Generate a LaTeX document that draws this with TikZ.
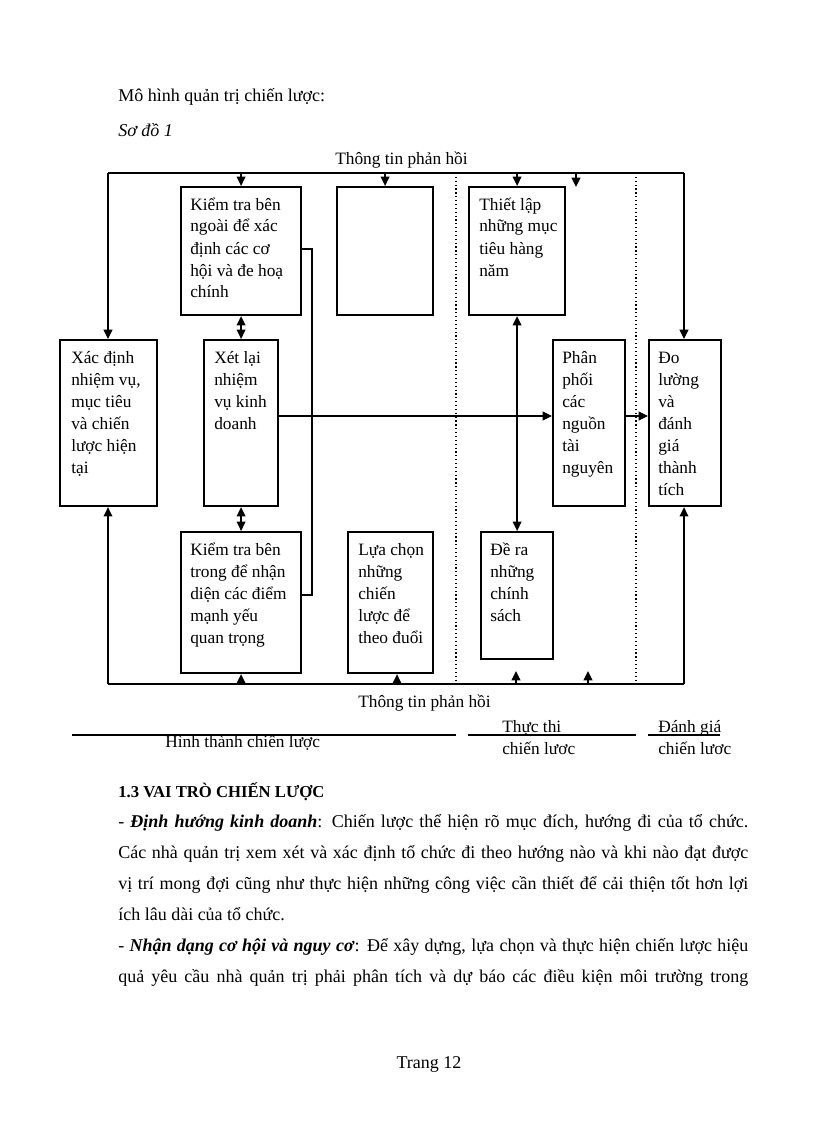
\documentclass[tikz,border=0pt]{standalone}
\usepackage{fontspec}
\setmainfont{Liberation Serif}
\usetikzlibrary{arrows.meta,calc}
\newcommand\bxt[1]{\parbox[t]{110pt}{\fontsize{13pt}{16.5pt}\selectfont #1}}
\newcommand\jline[1]{\makebox[472.5pt][s]{#1}}
\begin{document}
\begin{tikzpicture}[x=0.75pt,y=-0.75pt,
  box/.style={draw,line width=1.6pt,anchor=north west,inner sep=0pt},
  txt/.style={anchor=base west,inner sep=0pt},
  lbl/.style={anchor=base west,inner sep=0pt,font=\fontsize{13pt}{15pt}\selectfont},
  body/.style={anchor=base west,inner sep=0pt,font=\fontsize{13.5pt}{16pt}\selectfont},
  conn/.style={line width=1.2pt},
  arr/.style={conn,-{Triangle[length=7pt,width=6.5pt]}},
  darr/.style={conn,{Triangle[length=7pt,width=6.5pt]}-{Triangle[length=7pt,width=6.5pt]}},
  dots/.style={line width=0.9pt,dotted},
  uline/.style={line width=1pt}
]
\useasboundingbox[fill=white] (0,0) rectangle (816,1123);

% boxes
\node[box,minimum width=90pt,minimum height=96pt] (kn) at (180,186) {};
\node[box,minimum width=72pt,minimum height=96pt] (em) at (336,186) {};
\node[box,minimum width=72pt,minimum height=96pt] (tl) at (468,186) {};
\node[box,minimum width=72.75pt,minimum height=124.5pt] (xd) at (59,339) {};
\node[box,minimum width=55.5pt,minimum height=124.5pt] (xl) at (203,339) {};
\node[box,minimum width=54pt,minimum height=124.5pt] (pp) at (552,339) {};
\node[box,minimum width=54pt,minimum height=124.5pt] (dl) at (648,339) {};
\node[box,minimum width=90pt,minimum height=105.75pt] (kt) at (180,531) {};
\node[box,minimum width=63.75pt,minimum height=105.75pt] (lc) at (347,531) {};
\node[box,minimum width=54pt,minimum height=95.25pt] (dr) at (480,531) {};

% box texts
\node[txt] (kntx) at ($(kn.north west)+(10,24)$) {\bxt{Kiểm tra bên\\ngoài để xác\\định các cơ\\hội và đe hoạ\\chính}};
\node[txt] (tltx) at ($(tl.north west)+(11,24)$) {\bxt{Thiết lập\\những mục\\tiêu hàng\\năm}};
\node[txt] (xdtx) at ($(xd.north west)+(12,24)$) {\bxt{Xác định\\nhiệm vụ,\\mục tiêu\\và chiến\\lược hiện\\tại}};
\node[txt] (xltx) at ($(xl.north west)+(11,24)$) {\bxt{Xét lại\\nhiệm\\vụ kinh\\doanh}};
\node[txt] (pptx) at ($(pp.north west)+(10,24)$) {\bxt{Phân\\phối\\các\\nguồn\\tài\\nguyên}};
\node[txt] (dltx) at ($(dl.north west)+(10,24)$) {\bxt{Đo\\lường\\và\\đánh\\giá\\thành\\tích}};
\node[txt] (kttx) at ($(kt.north west)+(10,24)$) {\bxt{Kiểm tra bên\\trong để nhận\\diện các điểm\\mạnh yếu\\quan trọng}};
\node[txt] (lctx) at ($(lc.north west)+(11,24)$) {\bxt{Lựa chọn\\những\\chiến\\lược để\\theo đuổi}};
\node[txt] (drtx) at ($(dr.north west)+(10,24)$) {\bxt{Đề ra\\những\\chính\\sách}};

% frame coordinates
\coordinate (TL) at (108,173);
\coordinate (TR) at (684,173);
\coordinate (BL) at (108,684);
\coordinate (BR) at (684,684);
\coordinate (T576) at (576,173);
\coordinate (T576e) at (576,187);
\coordinate (B397) at (397,684);
\coordinate (B516) at (516,684);
\coordinate (B516e) at (516,671);
\coordinate (B588) at (588,684);
\coordinate (B588e) at (588,671);
\coordinate (D1t) at (456,173);
\coordinate (D1b) at (456,684);
\coordinate (D2t) at (636,173);
\coordinate (D2b) at (636,684);
\coordinate (hy) at (0,416);
\coordinate (br1) at (312,249);
\coordinate (br2) at (312,595);

% feedback lines
\draw[conn] (TL) -- (TR);
\draw[conn] (BL) -- (BR);
\draw[arr] (TL) -- (TL |- xd.north);
\draw[arr] (TR) -- (TR |- dl.north);
\draw[arr] (BL) -- (BL |- xd.south);
\draw[arr] (BR) -- (BR |- dl.south);
\draw[arr] (kn.north |- TL) -- (kn.north);
\draw[arr] (em.north |- TL) -- (em.north);
\draw[arr] (tl.north |- TL) -- (tl.north);
\draw[arr] (T576) -- (T576e);
\draw[arr] (kt.south |- BL) -- (kt.south);
\draw[arr] (B397) -- (B397 |- lc.south);
\draw[arr] (B516) -- (B516e);
\draw[arr] (B588) -- (B588e);

% dotted separators
\draw[dots] (D1t) -- (D1b);
\draw[dots] (D2t) -- (D2b);

% inner connectors
\draw[darr] (kn.south) -- (xl.north);
\draw[darr] (xl.south) -- (kt.north);
\draw[darr] (tl.south) -- (dr.north);
\draw[conn] (kn.east |- br1) -- (br1) -- (br2) -- (kt.east |- br2);
\draw[arr] (xl.east |- hy) -- (pp.west |- hy);
\draw[arr] (pp.east |- hy) -- (dl.west |- hy);

% labels
\node[lbl] (fbt) at (335,165) {Thông tin phản hồi};
\node[lbl] (fbb) at (358,707) {Thông tin phản hồi};

% phase lines and labels
\coordinate (u1a) at (72,735);
\coordinate (u1b) at (456,735);
\coordinate (u2a) at (468,735);
\coordinate (u2b) at (636,735);
\coordinate (u3a) at (648,735);
\coordinate (u3b) at (720,735);
\draw[uline] (u1a) -- (u1b);
\draw[uline] (u2a) -- (u2b);
\draw[uline] (u3a) -- (u3b);
\node[lbl] (ph1) at (165,747) {Hình thành chiến lược};
\node[lbl] (ph2a) at (502,732) {Thực thi};
\node[lbl] (ph2b) at (502,754) {chiến lươc};
\node[lbl] (ph3a) at (658,732) {Đánh giá};
\node[lbl] (ph3b) at (658,754) {chiến lươc};

% page text
\node[body] (t1) at (118,102) {Mô hình quản trị chiến lược:};
\node[body] (t2) at (118,137) {\textit{Sơ đồ 1}};
\node[anchor=base west,inner sep=0pt,font=\fontsize{12.5pt}{15pt}\selectfont\bfseries] (h13) at (118,797) {1.3 VAI TRÒ CHIẾN LƯỢC};
\node[body] (p1) at (118,827) {\jline{- \textbf{\textit{Định hướng kinh doanh}}: Chiến lược thể hiện rõ mục đích, hướng đi của tổ chức.}};
\node[body] (p2) at (118,858) {\jline{Các nhà quản trị xem xét và xác định tổ chức đi theo hướng nào và khi nào đạt được}};
\node[body] (p3) at (118,889) {\jline{vị trí mong đợi cũng như thực hiện những công việc cần thiết để cải thiện tốt hơn lợi}};
\node[body] (p4) at (118,920) {ích lâu dài của tổ chức.};
\node[body] (p5) at (118,951) {\jline{- \textbf{\textit{Nhận dạng cơ hội và nguy cơ}}: Để xây dựng, lựa chọn và thực hiện chiến lược hiệu}};
\node[body] (p6) at (118,982) {\jline{quả yêu cầu nhà quản trị phải phân tích và dự báo các điều kiện môi trường trong}};
\node[body,anchor=base] (pg) at (429,1068) {Trang 12};
\end{tikzpicture}
\end{document}
